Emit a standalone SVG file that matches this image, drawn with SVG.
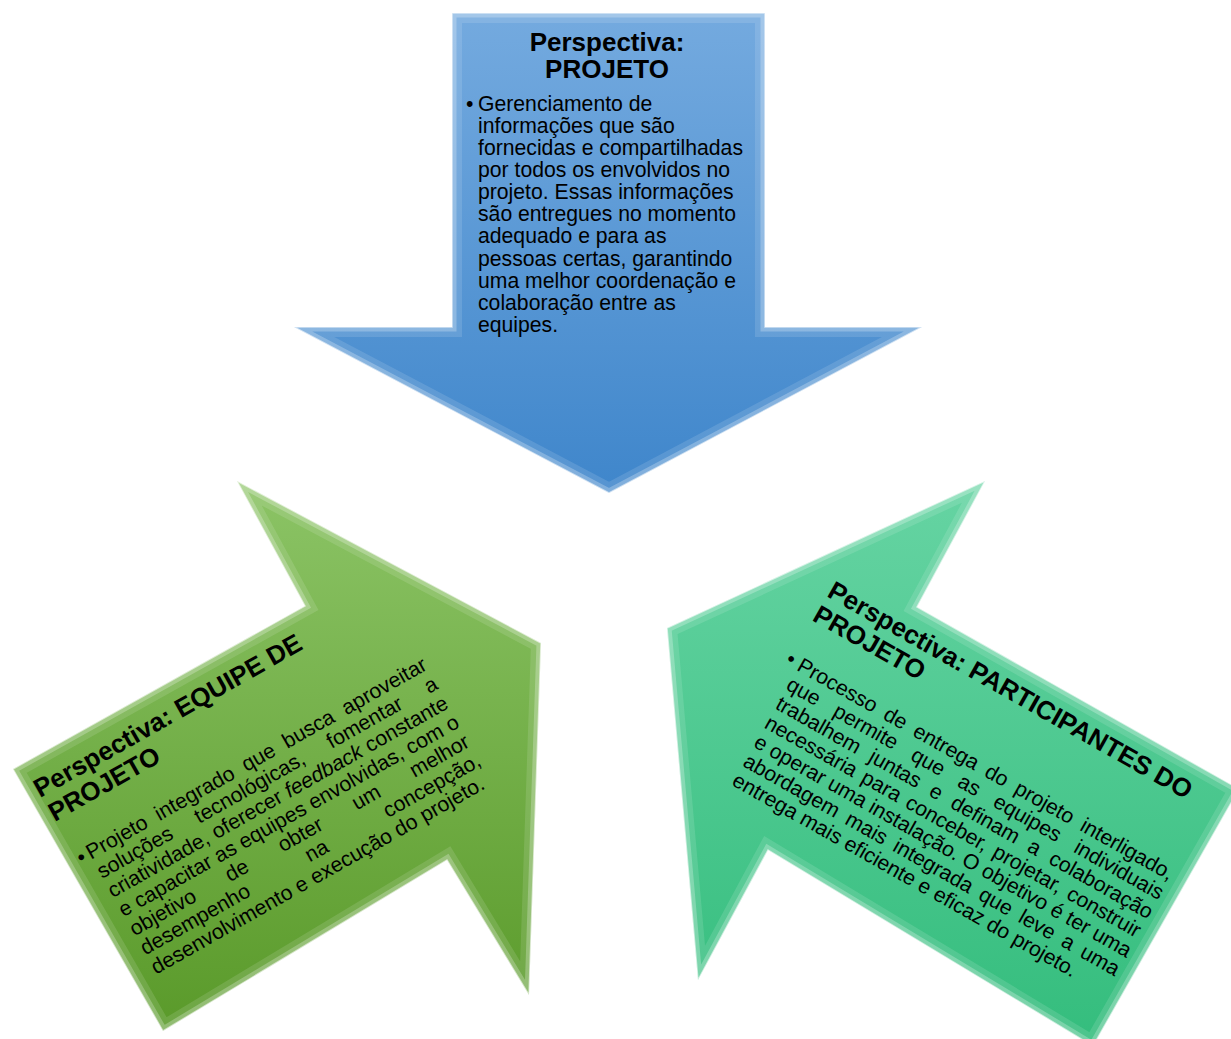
<svg xmlns="http://www.w3.org/2000/svg" width="1231" height="1039" viewBox="0 0 1231 1039">
<style>
.t{font-family:"Liberation Sans",Arial,sans-serif;font-weight:bold;font-size:26px;fill:#000}
.b{font-family:"Liberation Sans",Arial,sans-serif;font-size:21.2px;fill:#000}
.band{fill:none;stroke:#ffffff;stroke-linejoin:miter}
</style>
<defs>
<linearGradient id="gB" gradientUnits="userSpaceOnUse" x1="0" y1="13" x2="0" y2="493"><stop offset="0" stop-color="#74aadf"/><stop offset="1" stop-color="#3f86cb"/></linearGradient>
<linearGradient id="gG" gradientUnits="userSpaceOnUse" x1="0" y1="480" x2="0" y2="1031"><stop offset="0" stop-color="#8cc466"/><stop offset="1" stop-color="#5a9a2a"/></linearGradient>
<linearGradient id="gT" gradientUnits="userSpaceOnUse" x1="0" y1="481" x2="0" y2="1046"><stop offset="0" stop-color="#66d4a3"/><stop offset="1" stop-color="#34bd7d"/></linearGradient>
<polygon id="pB" points="452,13 765,13 765,327 922,327 609,493 294,327 452,327"/>
<polygon id="pG" points="541,643 237,481 305,606 13,769 163,1031 447,860 529,995"/>
<polygon id="pT" points="667,628 985,481 917,607 1239,789 1093,1046 768,850 698,980"/>
<clipPath id="cB"><use href="#pB"/></clipPath>
<clipPath id="cG"><use href="#pG"/></clipPath>
<clipPath id="cT"><use href="#pT"/></clipPath>
</defs>

<g id="node-projeto">
<use href="#pB" fill="url(#gB)"/>
<use href="#pB" class="band" stroke-width="20" stroke-opacity="0.12" clip-path="url(#cB)"/>
<use href="#pB" class="band" stroke-width="9" stroke-opacity="0.25" clip-path="url(#cB)"/>
<use href="#pB" class="band" stroke-width="1.5" stroke-opacity="0.6"/>
<text class="t" x="607" y="50.5" text-anchor="middle">Perspectiva:<tspan x="607" y="78">PROJETO</tspan></text>
<text class="b" x="466" y="111">•</text>
<text class="b" x="478" y="111">Gerenciamento de</text>
<text class="b" x="478" y="133">informações que são</text>
<text class="b" x="478" y="155">fornecidas e compartilhadas</text>
<text class="b" x="478" y="177">por todos os envolvidos no</text>
<text class="b" x="478" y="199">projeto. Essas informações</text>
<text class="b" x="478" y="221">são entregues no momento</text>
<text class="b" x="478" y="243">adequado e para as</text>
<text class="b" x="478" y="266">pessoas certas, garantindo</text>
<text class="b" x="478" y="288">uma melhor coordenação e</text>
<text class="b" x="478" y="310">colaboração entre as</text>
<text class="b" x="478" y="332">equipes.</text>
</g>

<g id="node-equipe">
<use href="#pG" fill="url(#gG)"/>
<use href="#pG" class="band" stroke-width="20" stroke-opacity="0.12" clip-path="url(#cG)"/>
<use href="#pG" class="band" stroke-width="9" stroke-opacity="0.25" clip-path="url(#cG)"/>
<use href="#pG" class="band" stroke-width="1.5" stroke-opacity="0.6"/>
<g transform="translate(40,798) rotate(-29.5)">
<text class="t" x="0" y="0">Perspectiva: EQUIPE DE</text>
<text class="t" x="1" y="28">PROJETO</text>
<text class="b" x="3" y="79">•</text>
<text class="b" x="14" y="79" word-spacing="5.6">Projeto integrado que busca aproveitar</text>
<text class="b" x="14" y="101" word-spacing="22.4">soluções tecnológicas, fomentar a</text>
<text class="b" x="14" y="123" word-spacing="0.3">criatividade, oferecer <tspan font-style="italic">feedback</tspan> constante</text>
<text class="b" x="14" y="145" word-spacing="0">e capacitar as equipes envolvidas, com o</text>
<text class="b" x="14" y="167" word-spacing="31">objetivo de obter um melhor</text>
<text class="b" x="14" y="189" word-spacing="60.5">desempenho na concepção,</text>
<text class="b" x="14" y="211">desenvolvimento e execução do projeto.</text>
</g>
</g>

<g id="node-participantes">
<use href="#pT" fill="url(#gT)"/>
<use href="#pT" class="band" stroke-width="20" stroke-opacity="0.12" clip-path="url(#cT)"/>
<use href="#pT" class="band" stroke-width="9" stroke-opacity="0.25" clip-path="url(#cT)"/>
<use href="#pT" class="band" stroke-width="1.5" stroke-opacity="0.6"/>
<g transform="translate(826,596) rotate(29.5)">
<text class="t" x="0" y="0">Perspectiva: PARTICIPANTES DO</text>
<text class="t" x="-1" y="28">PROJETO</text>
<text class="b" x="-3" y="79">•</text>
<text class="b" x="10" y="79" word-spacing="4.7">Processo de entrega do projeto interligado,</text>
<text class="b" x="10" y="101" word-spacing="12.6">que permite que as equipes individuais</text>
<text class="b" x="10" y="123" word-spacing="7">trabalhem juntas e definam a colaboração</text>
<text class="b" x="10" y="145" word-spacing="2.5">necessária para conceber, projetar, construir</text>
<text class="b" x="10" y="167" word-spacing="0">e operar uma instalação. O objetivo é ter uma</text>
<text class="b" x="10" y="189" word-spacing="4.3">abordagem mais integrada que leve a uma</text>
<text class="b" x="10" y="211">entrega mais eficiente e eficaz do projeto.</text>
</g>
</g>

<g id="connectors"/>
</svg>
